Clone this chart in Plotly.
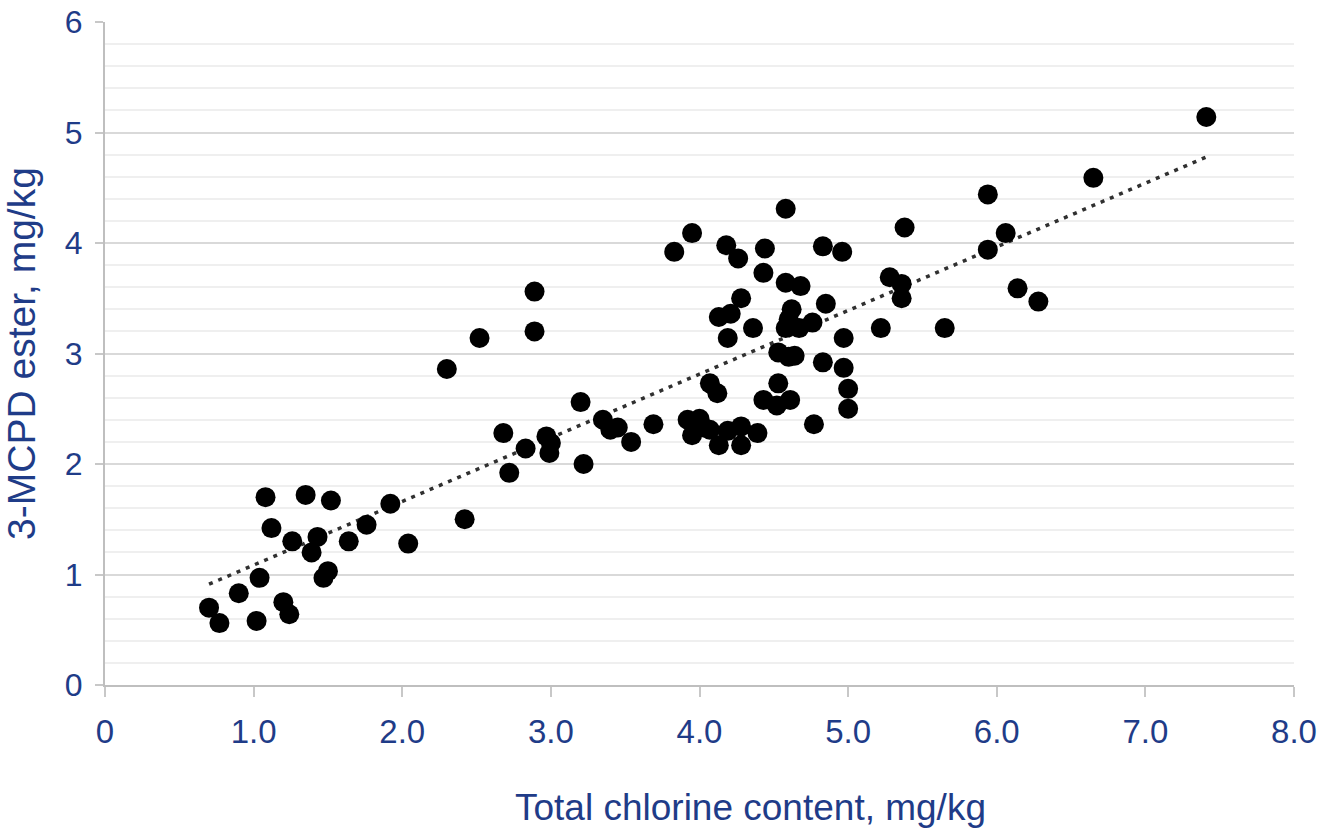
import numpy as np
import plotly.graph_objects as go

# Total chlorine content (mg/kg) and 3-MCPD ester (mg/kg)
chlorine = [
    0.70, 0.77, 0.90, 1.02, 1.04, 1.08, 1.12, 1.20, 1.24, 1.26,
    1.35, 1.39, 1.43, 1.47, 1.50, 1.52, 1.64, 1.76, 1.92, 2.04,
    2.42, 2.30, 2.52, 2.89, 2.89, 2.68, 2.72, 2.83, 2.97, 3.00,
    2.99, 3.20, 3.22, 3.35, 3.40, 3.45, 3.54, 3.69, 3.83, 3.95,
    3.92, 3.95, 4.00, 4.03, 4.07, 4.13, 4.19, 4.28, 4.28, 4.39,
    4.07, 4.12, 4.18, 4.26, 4.44, 4.58, 4.83, 4.96, 4.43, 4.58,
    4.68, 4.28, 4.13, 4.21, 4.36, 4.19, 4.85, 4.62, 4.60, 4.58,
    4.67, 4.76, 4.97, 4.53, 4.60, 4.64, 4.83, 4.97, 5.00, 5.00,
    4.77, 4.53, 4.43, 4.52, 4.61, 5.22, 5.38, 5.28, 5.36, 5.36,
    5.65, 5.94, 5.94, 6.06, 6.14, 6.28, 6.65, 7.41,
]
mcpd = [
    0.70, 0.56, 0.83, 0.58, 0.97, 1.70, 1.42, 0.75, 0.64, 1.30,
    1.72, 1.20, 1.34, 0.97, 1.03, 1.67, 1.30, 1.45, 1.64, 1.28,
    1.50, 2.86, 3.14, 3.56, 3.20, 2.28, 1.92, 2.14, 2.25, 2.19,
    2.10, 2.56, 2.00, 2.40, 2.31, 2.33, 2.20, 2.36, 3.92, 4.09,
    2.40, 2.26, 2.41, 2.33, 2.31, 2.17, 2.30, 2.34, 2.17, 2.28,
    2.73, 2.64, 3.98, 3.86, 3.95, 4.31, 3.97, 3.92, 3.73, 3.64,
    3.61, 3.50, 3.33, 3.36, 3.23, 3.14, 3.45, 3.40, 3.31, 3.23,
    3.23, 3.28, 3.14, 3.01, 2.97, 2.98, 2.92, 2.87, 2.68, 2.50,
    2.36, 2.73, 2.58, 2.53, 2.58, 3.23, 4.14, 3.69, 3.63, 3.50,
    3.23, 4.44, 3.94, 4.09, 3.59, 3.47, 4.59, 5.14,
]

x_tickvals = [0, 1, 2, 3, 4, 5, 6, 7, 8]
x_ticktext = ["0", "1.0", "2.0", "3.0", "4.0", "5.0", "6.0", "7.0", "8.0"]
y_tickvals = [0, 1, 2, 3, 4, 5, 6]
x_title = "Total chlorine content, mg/kg"
y_title = "3-MCPD ester, mg/kg"

# linear trend line (least squares, as in the original chart)
slope, intercept = np.polyfit(chlorine, mcpd, 1)
trend_x = np.array([min(chlorine), max(chlorine)])
trend_y = slope * trend_x + intercept

TXT = "#1f3c88"
FONT = "Liberation Sans, Arial, sans-serif"

fig = go.Figure()
fig.add_trace(go.Scatter(
    x=trend_x, y=trend_y, mode="lines",
    line=dict(color="#303030", width=3.5, dash="4px,6px"),
    hoverinfo="skip", showlegend=False,
))
fig.add_trace(go.Scatter(
    x=chlorine, y=mcpd, mode="markers",
    marker=dict(color="black", size=20, line=dict(width=0)),
    showlegend=False,
))

fig.update_layout(
    width=1322, height=832,
    margin=dict(l=105, r=28, t=22, b=147),
    paper_bgcolor="white", plot_bgcolor="white",
    font=dict(family=FONT, color=TXT),
    xaxis=dict(
        range=[0, 8], tickvals=x_tickvals, ticktext=x_ticktext,
        automargin=False,
        showgrid=False, zeroline=False,
        showline=True, linecolor="#bfbfbf", linewidth=2,
        ticks="outside", ticklen=10, tickwidth=2, tickcolor="#c8c8c8",
        ticklabelstandoff=6,
        tickfont=dict(size=33, color=TXT, family=FONT),
    ),
    yaxis=dict(
        range=[0, 6], tickvals=y_tickvals,
        automargin=False,
        showgrid=True, gridcolor="#d9d9d9", gridwidth=2,
        minor=dict(dtick=0.2, showgrid=True, gridcolor="#efefef", gridwidth=2),
        zeroline=False,
        showline=True, linecolor="#bfbfbf", linewidth=2,
        ticks="outside", ticklen=8, tickwidth=2, tickcolor="#c8c8c8",
        ticklabelstandoff=6,
        tickfont=dict(size=32, color=TXT, family=FONT),
        title=dict(text=y_title,
                   font=dict(size=39, color=TXT, family="Liberation Sans Narrow, " + FONT), standoff=20),
    ),
    annotations=[dict(
        text=x_title, xref="paper", yref="paper", x=0.5425, y=-0.1855,
        xanchor="center", yanchor="middle", showarrow=False,
        font=dict(size=37, color=TXT, family=FONT),
    )],
)

fig.write_html("out.html")
